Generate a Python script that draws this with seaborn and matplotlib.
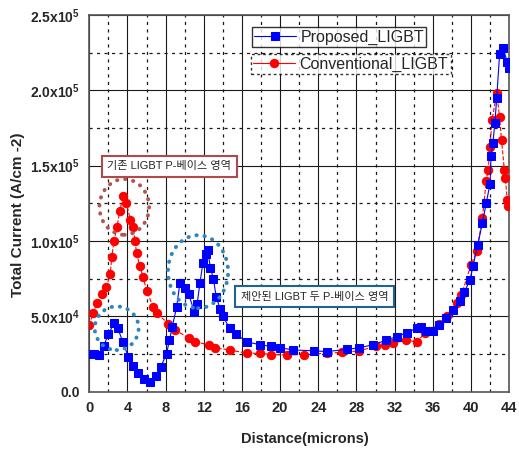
import numpy as np
import matplotlib
matplotlib.use("Agg")
import matplotlib.pyplot as plt
from matplotlib.patches import Ellipse
from matplotlib.ticker import MultipleLocator
import seaborn as sns

# (x in microns, y in A/cm^2)
blue_x = [0, 0.5, 1.0, 1.5, 2.0, 2.6, 3.0, 3.5, 4.1, 4.6, 5.1, 5.7, 6.35, 7.0, 7.5,
          8.1, 8.4, 8.7, 9.15, 9.5, 10.0, 10.4, 11.0, 11.3, 11.6, 11.9, 12.2, 12.4,
          12.7, 13.0, 13.3, 13.7, 14.0, 14.7, 15.4, 16.5, 17.9, 19.0, 20.0, 21.4,
          23.5, 24.9, 27.0, 28.3, 29.7, 31.1, 32.2, 33.3, 34.3, 34.8, 35.3, 36.0,
          36.7, 37.4, 38.1, 38.8, 39.3, 39.9, 40.2, 40.7, 41.2, 41.6, 42.0, 42.1,
          42.3, 42.5, 42.7, 43.0, 43.35, 43.8, 44.0]
blue_y = [0.25, 0.25, 0.24, 0.30, 0.38, 0.453, 0.42, 0.33, 0.23, 0.17, 0.12, 0.085,
          0.066, 0.10, 0.165, 0.25, 0.34, 0.43, 0.56, 0.72, 0.69, 0.65, 0.53, 0.58,
          0.72, 0.85, 0.91, 0.94, 0.82, 0.75, 0.63, 0.55, 0.50, 0.42, 0.38, 0.33,
          0.31, 0.30, 0.29, 0.276, 0.27, 0.265, 0.28, 0.29, 0.31, 0.34, 0.365, 0.39,
          0.42, 0.43, 0.40, 0.40, 0.44, 0.486, 0.54, 0.60, 0.66, 0.74, 0.83, 0.97,
          1.12, 1.25, 1.38, 1.56, 1.65, 1.78, 1.95, 2.24, 2.28, 2.19, 2.15]

red_x = [0, 0.4, 0.8, 1.3, 1.8, 2.2, 2.35, 2.6, 2.9, 3.2, 3.55, 3.9, 4.3, 4.6, 4.8,
         4.95, 5.3, 5.65, 6.0, 6.7, 7.05, 8.3, 9.0, 10.4, 11.1, 12.5, 13.2, 14.7,
         16.5, 17.9, 19.0, 20.7, 22.5, 24.9, 26.5, 28.3, 30.0, 31.0, 31.8, 33.2,
         34.3, 35.2, 36.7, 37.5, 38.5, 39.0, 40.0, 40.6, 41.2, 41.6, 41.8, 42.0,
         42.2, 42.7, 43.0, 43.2, 43.5, 43.6, 43.8, 43.9]
red_y = [0.44, 0.52, 0.585, 0.65, 0.695, 0.78, 0.89, 1.0, 1.09, 1.20, 1.30, 1.25,
         1.14, 1.09, 1.0, 0.92, 0.83, 0.76, 0.67, 0.56, 0.52, 0.45, 0.41, 0.355,
         0.33, 0.31, 0.29, 0.276, 0.254, 0.254, 0.245, 0.243, 0.245, 0.254, 0.26,
         0.27, 0.30, 0.31, 0.32, 0.34, 0.33, 0.387, 0.45, 0.50, 0.585, 0.64, 0.84,
         0.93, 1.15, 1.40, 1.47, 1.62, 1.80, 1.98, 1.82, 1.67, 1.47, 1.42, 1.27, 1.23]

scale = 1e5
x_ticks = list(range(0, 45, 4))
y_ticks = [0, 5e4, 1e5, 1.5e5, 2e5, 2.5e5]
y_tick_labels = ["0.0", "5.0x10$^{4}$", "1.0x10$^{5}$", "1.5x10$^{5}$", "2.0x10$^{5}$", "2.5x10$^{5}$"]
series_names = ["Proposed_LIGBT", "Conventional_LIGBT"]
note_conv = "기존 LIGBT P-베이스 영역"
note_prop = "제안된 LIGBT 두 P-베이스 영역"

sns.set_style("white")
plt.rcParams["font.family"] = ["Liberation Sans", "Noto Sans CJK KR", "DejaVu Sans"]
plt.rcParams["mathtext.fontset"] = "custom"
plt.rcParams["mathtext.rm"] = "Liberation Sans:bold"
plt.rcParams["mathtext.bf"] = "Liberation Sans:bold"
plt.rcParams["mathtext.default"] = "bf"

fig = plt.figure(figsize=(5.19, 4.5), dpi=100)
ax = fig.add_axes([0.172, 0.130, 0.809, 0.837])

by = np.array(blue_y) * scale
ry = np.array(red_y) * scale

sns.lineplot(x=blue_x, y=by, ax=ax, sort=False, estimator=None, color="blue",
             marker="s", markersize=5.5, markeredgecolor="blue", linewidth=0.8,
             label=series_names[0], zorder=4)
sns.lineplot(x=red_x, y=ry, ax=ax, sort=False, estimator=None, color="red",
             marker="o", markersize=6, markeredgecolor="red", linewidth=0.8,
             linestyle="--", label=series_names[1], zorder=3)

ax.set_xlim(0, 44)
ax.set_ylim(0, 2.5e5)
ax.set_xticks(x_ticks)
ax.set_xticklabels([str(t) for t in x_ticks], fontsize=10.5, fontweight="bold")
ax.set_yticks(y_ticks)
ax.set_yticklabels(y_tick_labels, fontsize=10, fontweight="bold")
ax.xaxis.set_minor_locator(MultipleLocator(2))
ax.yaxis.set_minor_locator(MultipleLocator(2.5e4))
ax.grid(which="major", color="#1a1a1a", linewidth=0.8, linestyle="-")
ax.grid(which="minor", color="#1a1a1a", linewidth=0.9, linestyle=(0, (2.5, 3.5)))
ax.set_axisbelow(True)
ax.tick_params(which="major", direction="out", length=4, width=1, color="#333333", pad=3)
ax.tick_params(which="minor", direction="out", length=3, width=1, color="#333333")
for s in ax.spines.values():
    s.set_color("#555555")
    s.set_linewidth(1.2)

ax.set_xlabel("Distance(microns)", fontsize=10.5, fontweight="bold")
ax.set_ylabel("Total Current (A/cm -2)", fontsize=11, fontweight="bold")
ax.xaxis.set_label_coords(0.514, -0.108)
ax.yaxis.set_label_coords(-0.153, 0.469)

# dotted ellipses marking the p-base regions
for (cx, cy), w, h, col in [((3.67, 1.225e5), 5.2, 0.37e5, "#b5534f"),
                            ((2.87, 0.42e5), 4.6, 0.29e5, "#2e86c1"),
                            ((11.4, 0.795e5), 6.3, 0.485e5, "#2e86c1")]:
    e = Ellipse((cx, cy), w, h, fill=False, edgecolor=col, linewidth=2.8,
                linestyle=(0, (0.1, 2.0)), zorder=5)
    e.set_capstyle("round")
    ax.add_patch(e)

ax.text(8.4, 1.495e5, note_conv, fontsize=8, ha="center", va="center", zorder=6,
        bbox=dict(boxstyle="square,pad=0.5", facecolor="white", edgecolor="#b04a4a", linewidth=1.5))
ax.text(23.6, 0.63e5, note_prop, fontsize=8, ha="center", va="center", zorder=6,
        bbox=dict(boxstyle="square,pad=0.5", facecolor="white", edgecolor="#1f6391", linewidth=1.5))

# two separate legend boxes, Origin style
handles, labels = ax.get_legend_handles_labels()
ax.get_legend().remove()
leg1 = ax.legend(handles[:1], labels[:1], loc="upper left", bbox_to_anchor=(0.387, 0.967),
                 fontsize=11.5, frameon=True, fancybox=False, edgecolor="black",
                 borderpad=0.15, handlelength=2.6, handletextpad=0.3, borderaxespad=0)
leg1.get_frame().set_linewidth(1.0)
ax.add_artist(leg1)
leg2 = ax.legend(handles[1:], labels[1:], loc="upper left", bbox_to_anchor=(0.385, 0.896),
                 fontsize=11.5, frameon=True, fancybox=False, edgecolor="black",
                 borderpad=0.15, handlelength=2.6, handletextpad=0.3, borderaxespad=0)
leg2.get_frame().set_linewidth(1.0)
leg2.get_frame().set_linestyle((0, (2, 2)))
for lg in (leg1, leg2):
    lg.set_zorder(7)
    for h in lg.legend_handles:
        h.set_linestyle("-")

fig.savefig("out.png", dpi=100)
